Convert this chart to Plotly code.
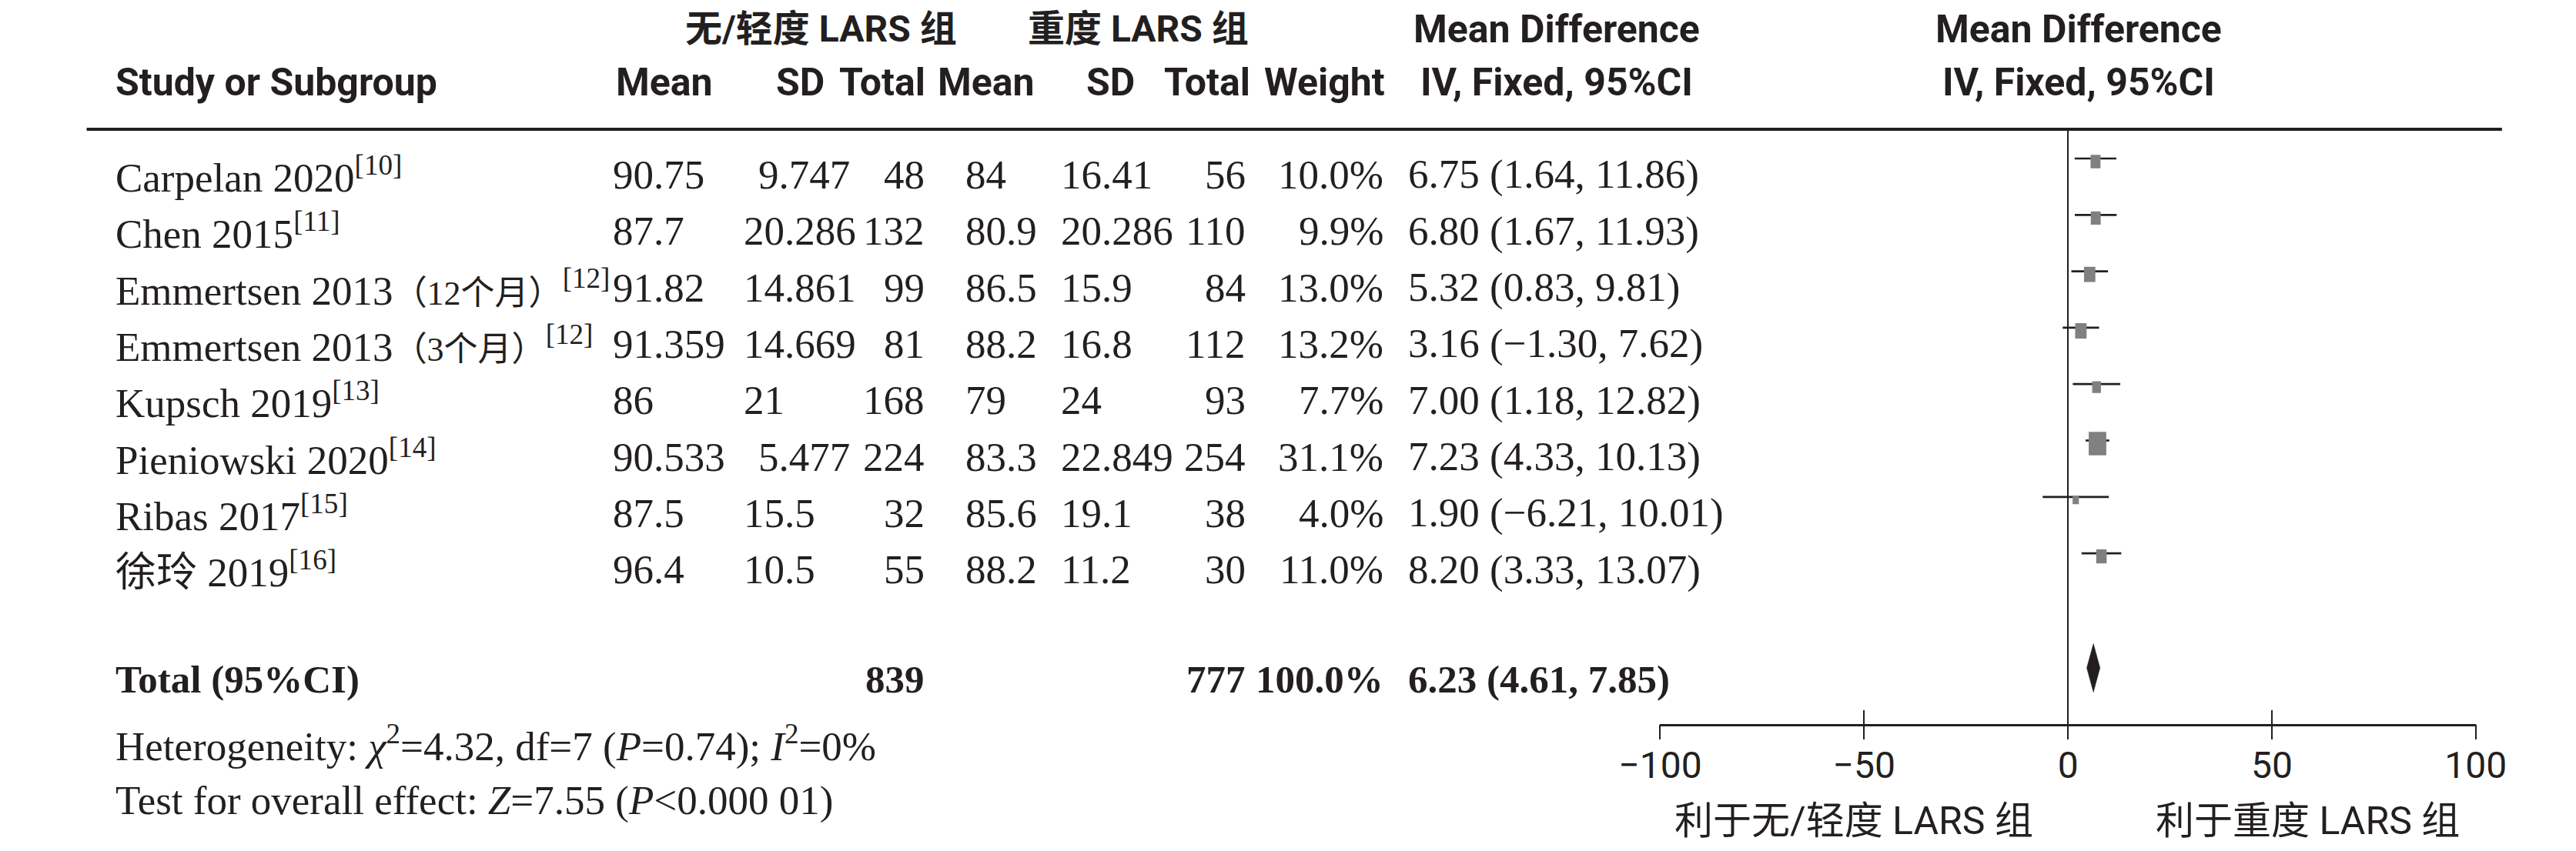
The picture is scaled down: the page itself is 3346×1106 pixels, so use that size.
import math
import plotly.graph_objects as go

# ---------------- data ----------------
studies = ["Carpelan 2020", "Chen 2015", "Emmertsen 2013", "Emmertsen 2013",
           "Kupsch 2019", "Pieniowski 2020", "Ribas 2017", "徐玲 2019"]
study_notes = ["", "", "（12个月）", "（3个月）", "", "", "", ""]
refs = ["10", "11", "12", "12", "13", "14", "15", "16"]
mean1 = ["90.75", "87.7", "91.82", "91.359", "86", "90.533", "87.5", "96.4"]
sd1 = ["9.747", "20.286", "14.861", "14.669", "21", "5.477", "15.5", "10.5"]
n1 = [48, 132, 99, 81, 168, 224, 32, 55]
mean2 = ["84", "80.9", "86.5", "88.2", "79", "83.3", "85.6", "88.2"]
sd2 = ["16.41", "20.286", "15.9", "16.8", "24", "22.849", "19.1", "11.2"]
n2 = [56, 110, 84, 112, 93, 254, 38, 30]
weight = [10.0, 9.9, 13.0, 13.2, 7.7, 31.1, 4.0, 11.0]
md = [6.75, 6.80, 5.32, 3.16, 7.00, 7.23, 1.90, 8.20]
ci_lo = [1.64, 1.67, 0.83, -1.30, 1.18, 4.33, -6.21, 3.33]
ci_hi = [11.86, 11.93, 9.81, 7.62, 12.82, 10.13, 10.01, 13.07]
total_n1, total_n2, total_weight = 839, 777, 100.0
total_md, total_lo, total_hi = 6.23, 4.61, 7.85
tick_vals = [-100, -50, 0, 50, 100]
group1 = "无/轻度 LARS 组"
group2 = "重度 LARS 组"
favours_left = "利于无/轻度 LARS 组"
favours_right = "利于重度 LARS 组"
heterogeneity = "Heterogeneity: <i>χ</i><sup>2</sup>=4.32, df=7 (<i>P</i>=0.74); <i>I</i><sup>2</sup>=0%"
overall = "Test for overall effect: <i>Z</i>=7.55 (<i>P</i>&lt;0.000 01)"
# SD column of group 1: typeset alignment in the source table
sd1_align = ["right", "left", "left", "left", "left", "right", "left", "left"]

# ---------------- geometry / style ----------------
W, H = 3346, 1106
OFF = 8                      # page body margin
PLOT_L, PLOT_R = 2163, 3253
Y_TOP, Y_AXIS = 168, 941
ROW0, ROW_STEP = 227, 73.3
TOTAL_ROW = 8.95
INK = "#231f20"
GREY = "#808080"
SANS = "Roboto, Liberation Sans, Arial, Noto Sans CJK SC, sans-serif"
SERIF = "Liberation Serif, Times New Roman, Noto Sans CJK SC, serif"
FS_HEAD = 50
FS_CJK_HEAD = 48
FS_DATA = 53
FS_TOTAL = 51


def px(x):
    return (x - OFF) / W


def py(y):
    return 1 - (y - OFF) / H


def row_of(ypx):
    return (ypx - ROW0) / ROW_STEP


def fmt(v):
    return f"{v:.2f}".replace("-", "−")


fig = go.Figure()

# CI lines
LINE_OFF = -21 / ROW_STEP
SQ_OFF = -17 / ROW_STEP
cx, cy = [], []
for i in range(len(md)):
    cx += [ci_lo[i], ci_hi[i], None]
    cy += [i + LINE_OFF, i + LINE_OFF, None]
fig.add_trace(go.Scatter(x=cx, y=cy, mode="lines", line=dict(color=INK, width=2.7),
                         hoverinfo="skip", showlegend=False))

# weight boxes (area proportional to weight)
UNIT_PX = (PLOT_R - PLOT_L) / 200.0
bx, by = [], []
for i in range(len(md)):
    hw = 4.2 * math.sqrt(weight[i]) / 2 / UNIT_PX
    hh = 5.5 * math.sqrt(weight[i]) / 2 / ROW_STEP
    yc = i + SQ_OFF
    bx += [md[i] - hw, md[i] + hw, md[i] + hw, md[i] - hw, md[i] - hw, None]
    by += [yc - hh, yc - hh, yc + hh, yc + hh, yc - hh, None]
fig.add_trace(go.Scatter(x=bx, y=by, mode="lines", fill="toself", fillcolor=GREY,
                         line=dict(width=0, color=GREY), hoverinfo="skip", showlegend=False))

# pooled diamond
dc = TOTAL_ROW - 15 / ROW_STEP
dh = 31.5 / ROW_STEP
fig.add_trace(go.Scatter(x=[total_lo, total_md, total_hi, total_md, total_lo],
                         y=[dc, dc - dh, dc, dc + dh, dc], mode="lines", fill="toself",
                         fillcolor=INK, line=dict(width=0.5, color=INK),
                         hoverinfo="skip", showlegend=False, xaxis="x2"))

ann = []


def add(text, x, y, xanchor, size=FS_DATA, family=SERIF, yref="y", yanchor="middle"):
    if yref == "y":
        yy = y
    elif y is None:
        yy = 1.0
    else:
        yy = py(y)
    ann.append(dict(text=text, x=px(x), y=yy, xref="paper", yref=yref,
                    xanchor=xanchor, yanchor=yanchor, showarrow=False,
                    borderpad=0 if yanchor == "top" else 1,
                    font=dict(family=family, size=size, color=INK)))


# headers (top row sits against the top edge of the figure)
add(f"<b>{group1}</b>", 1042, None, "center", FS_CJK_HEAD, SANS, "paper", "top")
add(f"<b>{group2}</b>", 1465, None, "center", FS_CJK_HEAD, SANS, "paper", "top")
add("<b>Mean Difference</b>", 2025, None, "center", FS_HEAD, SANS, "paper", "top")
add("<b>Mean Difference</b>", 2722, None, "center", FS_HEAD, SANS, "paper", "top")
add("<b>Study or Subgroup</b>", 96, 107, "left", FS_HEAD, SANS, "paper")
add("<b>Mean</b>", 832, 107, "center", FS_HEAD, SANS, "paper")
add("<b>SD</b>", 1014, 107, "center", FS_HEAD, SANS, "paper")
add("<b>Total</b>", 1183, 107, "right", FS_HEAD, SANS, "paper")
add("<b>Mean</b>", 1262, 107, "center", FS_HEAD, SANS, "paper")
add("<b>SD</b>", 1428, 107, "center", FS_HEAD, SANS, "paper")
add("<b>Total</b>", 1617, 107, "right", FS_HEAD, SANS, "paper")
add("<b>Weight</b>", 1797, 107, "right", FS_HEAD, SANS, "paper")
add("<b>IV, Fixed, 95%CI</b>", 2025, 107, "center", FS_HEAD, SANS, "paper")
add("<b>IV, Fixed, 95%CI</b>", 2722, 107, "center", FS_HEAD, SANS, "paper")

# study rows
for i in range(len(studies)):
    note = f'<span style="font-size:44px">{study_notes[i]}</span>' if study_notes[i] else ""
    add(f"{studies[i]}{note}<sup>[{refs[i]}]</sup>", 96, i, "left")
    add(mean1[i], 761, i, "left")
    add(sd1[i], 936 if sd1_align[i] == "left" else 1082, i, sd1_align[i])
    add(str(n1[i]), 1182, i, "right")
    add(mean2[i], 1232, i, "left")
    add(sd2[i], 1360, i, "left")
    add(str(n2[i]), 1611, i, "right")
    add(f"{weight[i]:.1f}%", 1795, i, "right")
    add(f"{fmt(md[i])} ({fmt(ci_lo[i])}, {fmt(ci_hi[i])})", 1824, i, "left")

# total row
add("<b>Total (95%CI)</b>", 96, TOTAL_ROW, "left", FS_TOTAL)
add(f"<b>{total_n1}</b>", 1182, TOTAL_ROW, "right", FS_TOTAL)
add(f"<b>{total_n2}</b>", 1611, TOTAL_ROW, "right", FS_TOTAL)
add(f"<b>{total_weight:.1f}%</b>", 1795, TOTAL_ROW, "right", FS_TOTAL)
add(f"<b>{fmt(total_md)} ({fmt(total_lo)}, {fmt(total_hi)})</b>", 1824, TOTAL_ROW, "left", FS_TOTAL)

add(heterogeneity, 96, 966, "left", yref="paper")
add(overall, 96, 1040, "left", yref="paper")

add(favours_left, 2422, 1067, "center", 50, SANS, "paper")
add(favours_right, 3028, 1067, "center", 50, SANS, "paper")

xdom = [px(PLOT_L), px(PLOT_R)]
ydom = [py(Y_AXIS), py(Y_TOP)]
common_x = dict(domain=xdom, range=[tick_vals[0], tick_vals[-1]], tickvals=tick_vals,
                showgrid=False, fixedrange=True, tickwidth=2, tickcolor=INK)

fig.update_layout(
    width=W, height=H, autosize=False,
    margin=dict(l=0, r=0, t=0, b=0, pad=0),
    paper_bgcolor="white", plot_bgcolor="white",
    showlegend=False,
    annotations=ann,
    shapes=[dict(type="line", xref="paper", yref="paper", x0=px(60), x1=px(3288),
                 y0=py(Y_TOP), y1=py(Y_TOP), line=dict(color=INK, width=4))],
    xaxis=dict(**common_x, showline=True, linecolor=INK, linewidth=3, ticks="inside", ticklen=18,
               zeroline=True, zerolinecolor=INK, zerolinewidth=2, anchor="y",
               tickfont=dict(family=SANS, size=48, color=INK), ticklabelstandoff=9),
    xaxis2=dict(**common_x, overlaying="x", matches="x", anchor="y", side="bottom",
                ticks="outside", ticklen=19, showticklabels=False, showline=False, zeroline=False),
    yaxis=dict(domain=ydom, range=[row_of(Y_AXIS), row_of(Y_TOP)], visible=False,
               fixedrange=True, showgrid=False, zeroline=False),
)

fig.write_html("out.html")
